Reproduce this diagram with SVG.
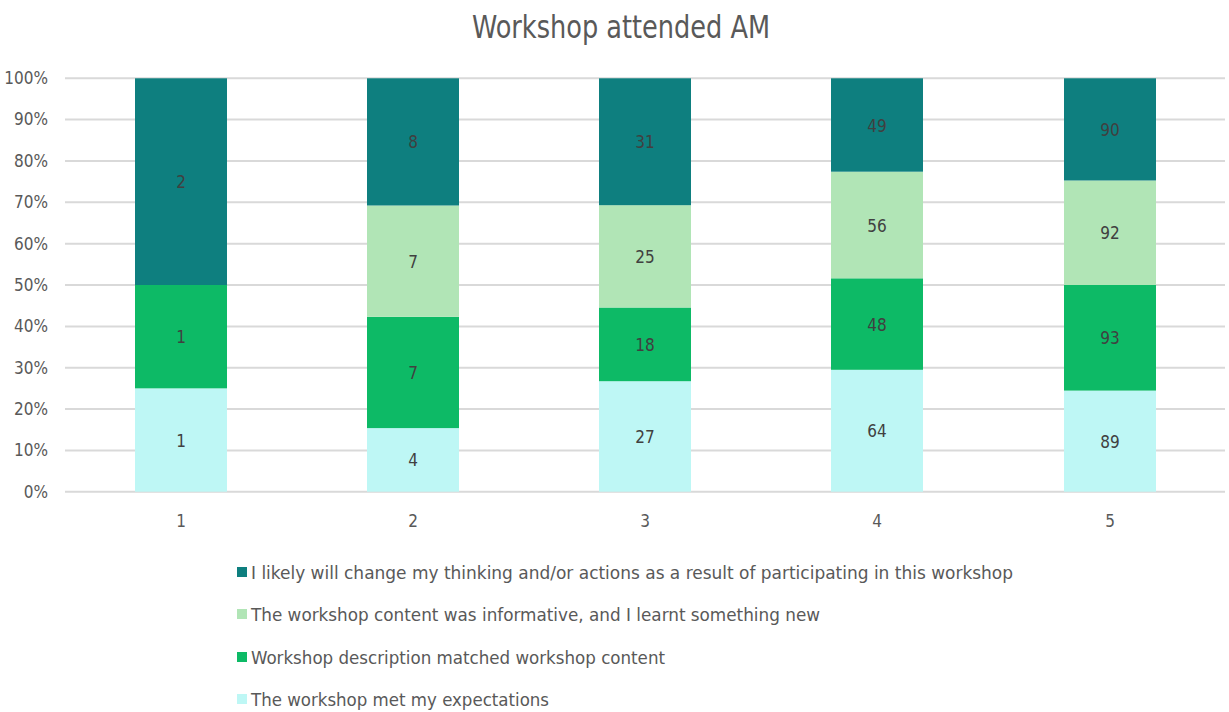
<svg xmlns="http://www.w3.org/2000/svg" width="1229" height="712" viewBox="0 0 1229 712">
<style>
text{font-family:"DejaVu Sans Condensed","DejaVu Sans",sans-serif}
.grid{stroke:#D9D9D9;stroke-width:2}
.ax{font-size:17px;fill:#595959;text-anchor:end}
.xl{font-size:17px;fill:#595959;text-anchor:middle}
.dl{font-size:17px;fill:#404040;text-anchor:middle}
.lg{font-size:17px;fill:#595959}
.c1{fill:#0E7F7F}.c2{fill:#B1E5B6}.c3{fill:#0DBA66}.c4{fill:#BEF7F5}
</style>
<rect width="1229" height="712" fill="#fff"/>
<text x="621" y="38" font-size="32" fill="#595959" text-anchor="middle" textLength="298" lengthAdjust="spacingAndGlyphs">Workshop attended AM</text>
<g id="grid">
<line class="grid" x1="65" x2="1225" y1="491.7" y2="491.7"/>
<line class="grid" x1="65" x2="1225" y1="450.4" y2="450.4"/>
<line class="grid" x1="65" x2="1225" y1="409.0" y2="409.0"/>
<line class="grid" x1="65" x2="1225" y1="367.7" y2="367.7"/>
<line class="grid" x1="65" x2="1225" y1="326.4" y2="326.4"/>
<line class="grid" x1="65" x2="1225" y1="285.0" y2="285.0"/>
<line class="grid" x1="65" x2="1225" y1="243.7" y2="243.7"/>
<line class="grid" x1="65" x2="1225" y1="202.3" y2="202.3"/>
<line class="grid" x1="65" x2="1225" y1="161.0" y2="161.0"/>
<line class="grid" x1="65" x2="1225" y1="119.6" y2="119.6"/>
<line class="grid" x1="65" x2="1225" y1="78.3" y2="78.3"/>
</g>
<g id="yaxis">
<text class="ax" x="48" y="497.5">0%</text>
<text class="ax" x="48" y="456.2">10%</text>
<text class="ax" x="48" y="414.8">20%</text>
<text class="ax" x="48" y="373.5">30%</text>
<text class="ax" x="48" y="332.2">40%</text>
<text class="ax" x="48" y="290.8">50%</text>
<text class="ax" x="48" y="249.5">60%</text>
<text class="ax" x="48" y="208.1">70%</text>
<text class="ax" x="48" y="166.8">80%</text>
<text class="ax" x="48" y="125.4">90%</text>
<text class="ax" x="48" y="84.1">100%</text>
</g>
<g id="bar1">
<rect class="c4" x="135" y="388.35" width="92" height="103.35"/>
<rect class="c3" x="135" y="285" width="92" height="103.35"/>
<rect class="c1" x="135" y="78.3" width="92" height="206.7"/>
<text class="dl" x="181" y="446.5">1</text>
<text class="dl" x="181" y="343.2">1</text>
<text class="dl" x="181" y="188.2">2</text>
<text class="xl" x="181" y="527">1</text>
</g>
<g id="bar2">
<rect class="c4" x="367" y="428.1" width="92" height="63.6"/>
<rect class="c3" x="367" y="316.8" width="92" height="111.3"/>
<rect class="c2" x="367" y="205.5" width="92" height="111.3"/>
<rect class="c1" x="367" y="78.3" width="92" height="127.2"/>
<text class="dl" x="413" y="466.4">4</text>
<text class="dl" x="413" y="379">7</text>
<text class="dl" x="413" y="267.7">7</text>
<text class="dl" x="413" y="148.4">8</text>
<text class="xl" x="413" y="527">2</text>
</g>
<g id="bar3">
<rect class="c4" x="599" y="381.2" width="92" height="110.5"/>
<rect class="c3" x="599" y="307.5" width="92" height="73.7"/>
<rect class="c2" x="599" y="205.2" width="92" height="102.3"/>
<rect class="c1" x="599" y="78.3" width="92" height="126.9"/>
<text class="dl" x="645" y="443">27</text>
<text class="dl" x="645" y="350.9">18</text>
<text class="dl" x="645" y="262.9">25</text>
<text class="dl" x="645" y="148.3">31</text>
<text class="xl" x="645" y="527">3</text>
</g>
<g id="bar4">
<rect class="c4" x="831" y="369.8" width="92" height="121.9"/>
<rect class="c3" x="831" y="278.3" width="92" height="91.5"/>
<rect class="c2" x="831" y="171.7" width="92" height="106.6"/>
<rect class="c1" x="831" y="78.3" width="92" height="93.4"/>
<text class="dl" x="877" y="437.3">64</text>
<text class="dl" x="877" y="330.6">48</text>
<text class="dl" x="877" y="231.5">56</text>
<text class="dl" x="877" y="131.5">49</text>
<text class="xl" x="877" y="527">4</text>
</g>
<g id="bar5">
<rect class="c4" x="1064" y="390.6" width="92" height="101.1"/>
<rect class="c3" x="1064" y="285" width="92" height="105.6"/>
<rect class="c2" x="1064" y="180.5" width="92" height="104.5"/>
<rect class="c1" x="1064" y="78.3" width="92" height="102.2"/>
<text class="dl" x="1110" y="447.7">89</text>
<text class="dl" x="1110" y="344.3">93</text>
<text class="dl" x="1110" y="239.3">92</text>
<text class="dl" x="1110" y="135.9">90</text>
<text class="xl" x="1110" y="527">5</text>
</g>
<g id="legend">
<rect class="c1" x="237" y="567" width="10" height="10"/>
<text class="lg" x="251" y="579" textLength="762" lengthAdjust="spacingAndGlyphs">I likely will change my thinking and/or actions as a result of participating in this workshop</text>
<rect class="c2" x="237" y="609" width="10" height="10"/>
<text class="lg" x="251" y="621" textLength="569" lengthAdjust="spacingAndGlyphs">The workshop content was informative, and I learnt something new</text>
<rect class="c3" x="237" y="652" width="10" height="10"/>
<text class="lg" x="251" y="664" textLength="414" lengthAdjust="spacingAndGlyphs">Workshop description matched workshop content</text>
<rect class="c4" x="237" y="694" width="10" height="10"/>
<text class="lg" x="251" y="706" textLength="298" lengthAdjust="spacingAndGlyphs">The workshop met my expectations</text>
</g>
</svg>
